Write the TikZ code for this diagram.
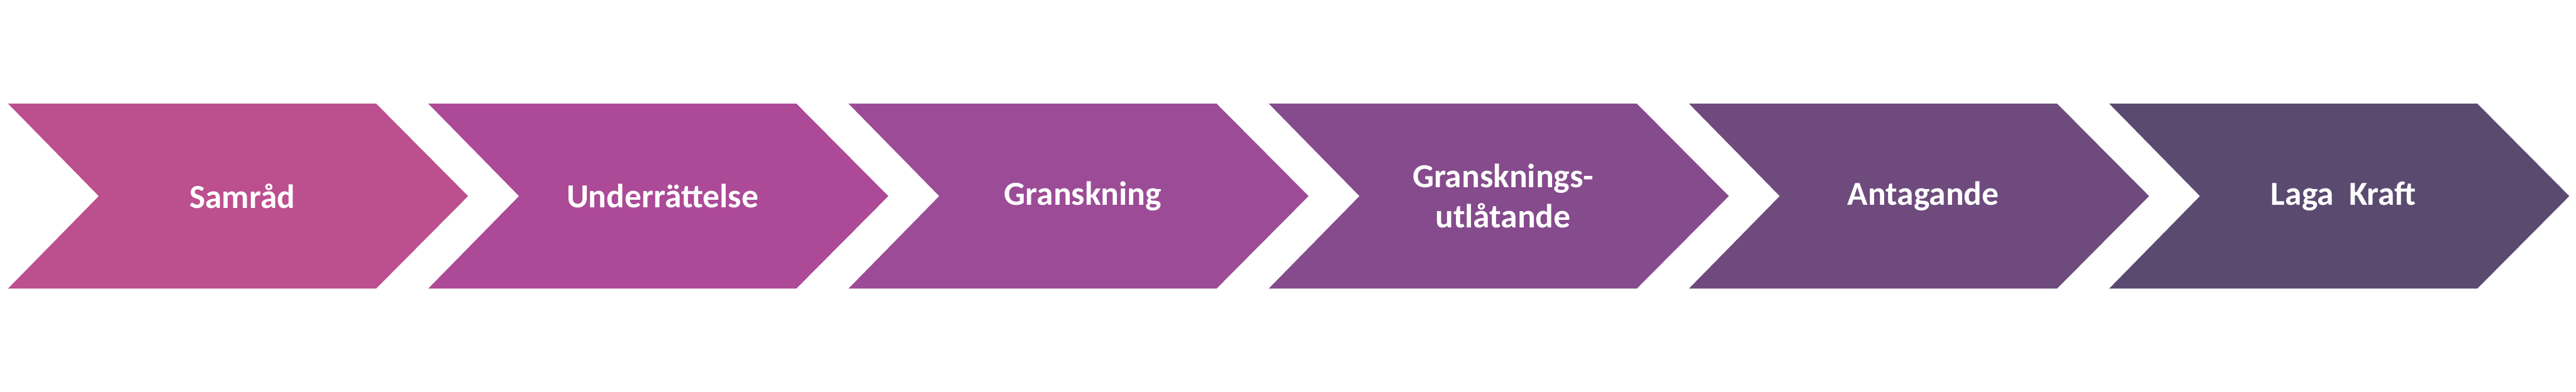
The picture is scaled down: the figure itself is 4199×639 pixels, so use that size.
\documentclass[tikz,border=0pt]{standalone}
\usepackage{fontspec}
\setmainfont{Carlito}
\usetikzlibrary{positioning}

\definecolor{stepA}{HTML}{BC4F8E}
\definecolor{stepB}{HTML}{AC4A97}
\definecolor{stepC}{HTML}{9C4C96}
\definecolor{stepD}{HTML}{854B8C}
\definecolor{stepE}{HTML}{6E4A7D}
\definecolor{stepF}{HTML}{5B4A70}

\begin{document}
\begin{tikzpicture}[
  x=0.01cm,y=0.01cm,
  chevron/.style={draw=none},
  label/.style={text=white,align=center,font=\bfseries\fontsize{15.6}{18.5}\selectfont}
]
\useasboundingbox (0,0) rectangle (4199,639);
\foreach \i/\col/\name/\txt in {0/stepA/samrad/{Samråd},
                               1/stepB/underratt/{Underrättelse},
                               2/stepC/gransk/{Granskning},
                               3/stepD/utlat/{Gransknings-\\utlåtande},
                               4/stepE/antag/{Antagande},
                               5/stepF/laga/{Laga~~Kraft}}
{
  \fill[chevron,\col] (13+685*\i,470) -- ++(600,0) -- ++(150,-151) -- ++(-150,-151)
        -- ++(-600,0) -- ++(148,151) -- cycle;
  \node[label] (\name) at (395+685*\i,319) {\txt};
}
\end{tikzpicture}
\end{document}
